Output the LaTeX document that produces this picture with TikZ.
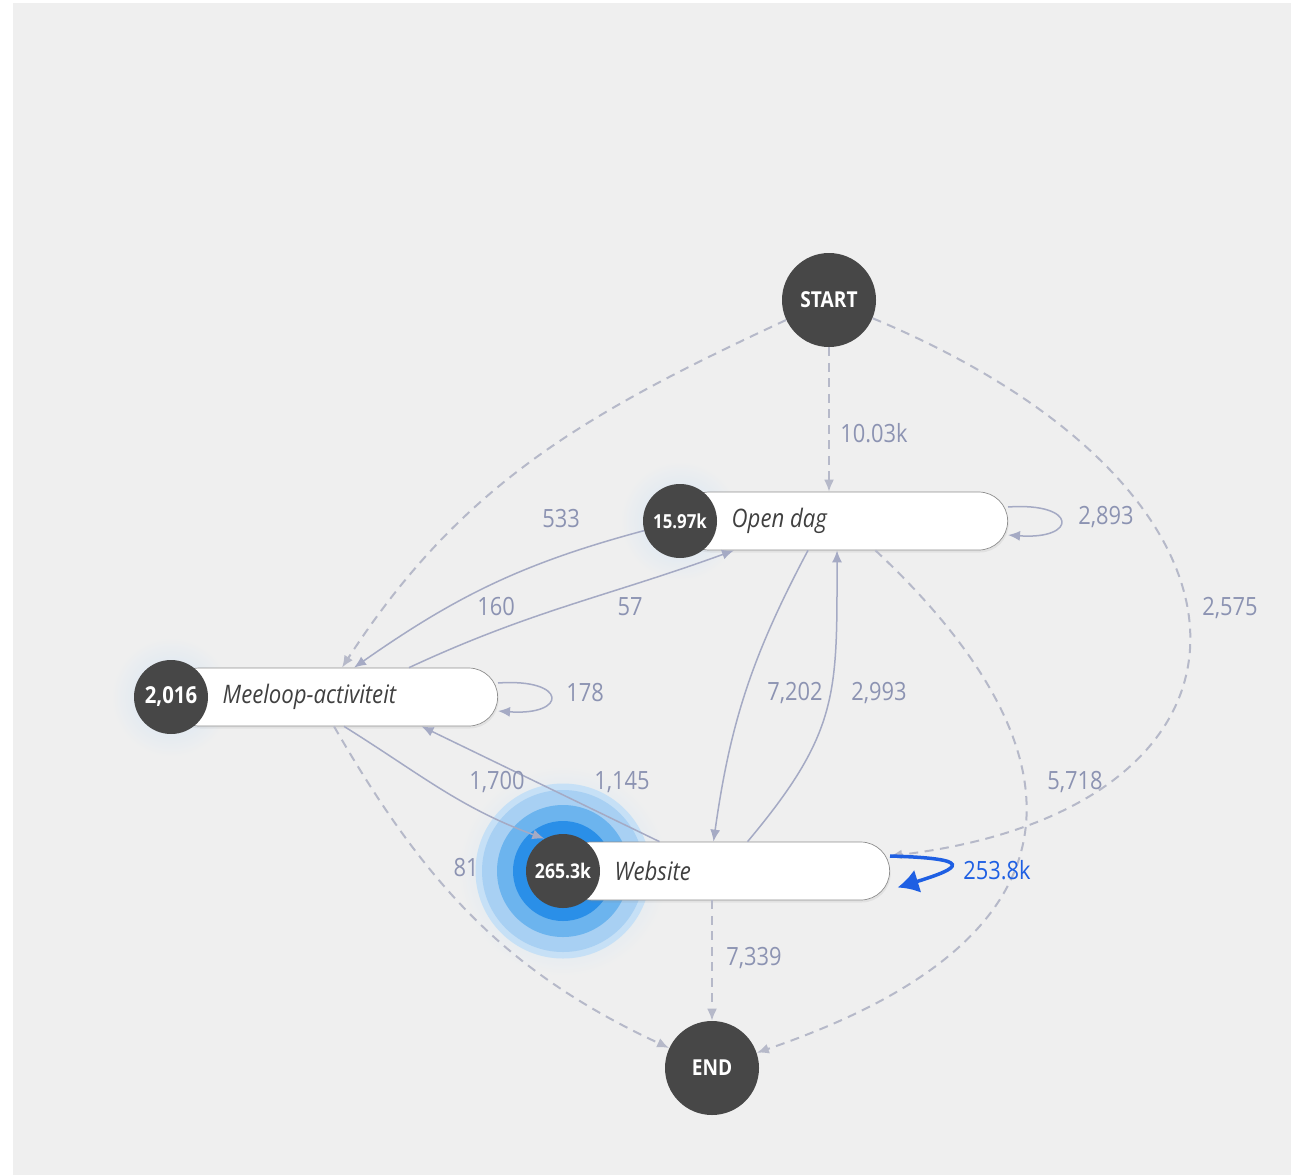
\documentclass[tikz,border=0pt]{standalone}
\usepackage{fontspec}
\setmainfont{Open Sans}[FakeStretch=0.87]
\usetikzlibrary{arrows.meta,positioning,shapes.misc,shadows}
\definecolor{bgpanel}{HTML}{EFEFEF}
\definecolor{stepdark}{HTML}{474747}
\definecolor{flowline}{HTML}{A5AAC4}
\definecolor{flowdash}{HTML}{B6B9C9}
\definecolor{flowlabel}{HTML}{8C93B2}
\definecolor{loopblue}{HTML}{1E5FE3}
\definecolor{pillborder}{HTML}{8E8E8E}
\definecolor{glowsoft}{HTML}{D3E4F4}
\definecolor{glowA}{HTML}{C6E0F6}
\definecolor{glowB}{HTML}{A8D0F3}
\definecolor{glowC}{HTML}{6CB4EE}
\definecolor{glowD}{HTML}{2A8FE8}

\begin{document}
\begin{tikzpicture}[x=0.2mm,y=-0.2mm,
  counter/.style={circle,fill=stepdark,text=white,font=\bfseries\fontsize{11}{12}\selectfont,minimum size=14.8mm,inner sep=0pt},
  endpoint/.style={circle,fill=stepdark,text=white,font=\bfseries\fontsize{12.5}{14}\selectfont,minimum size=18.8mm,inner sep=0pt},
  pill/.style={rounded rectangle,draw=pillborder,fill=white,minimum width=67.8mm,minimum height=11.6mm,anchor=east,drop shadow={shadow xshift=0.2mm,shadow yshift=-0.5mm,opacity=0.12}},
  pilltext/.style={font=\itshape\fontsize{14.5}{16}\selectfont,text=black!75,inner sep=0pt},
  flow/.style={draw=flowline,line width=0.3mm,-{Latex[length=2.4mm,width=2mm]}},
  dflow/.style={flow,draw=flowdash,line width=0.4mm,dash pattern=on 1.8mm off 1.3mm},
  num/.style={font=\fontsize{14.3}{16}\selectfont,text=flowlabel}]
\fill[white] (0,0) rectangle (1291,1175);
\fill[bgpanel] (13,3) rectangle (1291,1175);
\useasboundingbox (0,0) rectangle (1291,1175);

\shade[inner color=glowsoft,outer color=bgpanel] (680,521) circle[radius=12mm];
\shade[inner color=glowsoft,outer color=bgpanel] (171,697) circle[radius=12mm];
\shade[inner color=glowA,outer color=bgpanel] (563,871) circle[radius=21mm];
\fill[glowA] (563,871) circle[radius=17.5mm];
\fill[glowB] (563,871) circle[radius=16.2mm];
\fill[glowC] (563,871) circle[radius=13.2mm];
\fill[glowD] (563,871) circle[radius=10mm];

\node[endpoint] (start) at (829,300) {START};
\node[endpoint] (end) at (712,1068) {END};
\node[pill] (odp) at (1008,521) {};
\node[pill] (mlp) at (498,697) {};
\node[pill] (wsp) at (890,871) {};
\node[counter] (od) at (680,521) {15.97k};
\node[counter,font=\bfseries\fontsize{13.3}{14}\selectfont] (ml) at (171,697) {2,016};
\node[counter,font=\bfseries\fontsize{11.5}{12}\selectfont] (ws) at (563,871) {265.3k};
\node[pilltext,right=2.8mm of od] (odt) {Open dag};
\node[pilltext,right=2.8mm of ml] (mlt) {Meeloop-activiteit};
\node[pilltext,right=2.8mm of ws] (wst) {Website};

\draw[dflow] (start) -- (start |- odp.north);
\draw[dflow] (start) to[out=205,in=57] ([xshift=1.6mm]mlp.north);
\draw[flow] (od) to[out=195,in=35] ([xshift=4mm]mlp.north);
\draw[flow] ([xshift=15mm]mlp.north) to[out=25,in=200] ([xshift=-22mm]odp.south);
\draw[flow] ([yshift=2.8mm]odp.east) .. controls +(14mm,1mm) and +(14mm,-1mm) .. ([yshift=-2.8mm]odp.east);
\draw[flow] ([yshift=2.8mm]mlp.east) .. controls +(14mm,1mm) and +(14mm,-1mm) .. ([yshift=-2.8mm]mlp.east);
\draw[flow] ([xshift=-7.2mm]odp.south) to[bend right=10] ([xshift=-2.5mm]wsp.north);
\draw[flow] ([xshift=4.3mm]wsp.north) to[out=50,in=-90,looseness=1.2] ([xshift=-1.4mm]odp.south);
\draw[flow] ([xshift=-13.3mm]wsp.north) -- ([xshift=17.5mm]mlp.south);
\draw[flow] ([xshift=2mm]mlp.south) to[out=-32,in=160] (ws.120);
\draw[dflow] (end |- wsp.south) -- (end);
\draw[dflow] (mlp.south) to[out=-60,in=155] (end);
\draw[dflow] (odp) .. controls (1030,695) and (1160,915) .. (end);
\draw[dflow] (start) .. controls (1300,497) and (1283,809) .. ([yshift=3mm]wsp.east);
\draw[loopblue,line width=0.7mm,-{Latex[length=4.2mm,width=4.8mm]}] ([yshift=3mm]wsp.east) .. controls +(17mm,-0.5mm) and +(13mm,4mm) .. ([xshift=1.5mm,yshift=-3.3mm]wsp.east);

\node[num] (n1003) at (874,433) {10.03k};
\node[num] (n533) at (561,519) {533};
\node[num] (n2893) at (1106,517) {2,893};
\node[num] (n160) at (496,607) {160};
\node[num] (n57) at (630,607) {57};
\node[num] (n2575) at (1230,608) {2,575};
\node[num] (n178) at (585,693) {178};
\node[num] (n7202) at (795,693) {7,202};
\node[num] (n2993) at (879,693) {2,993};
\node[num] (n1700) at (497,782) {1,700};
\node[num] (n1145) at (622,782) {1,145};
\node[num] (n5718) at (1075,782) {5,718};
\node[num] (n81) at (466,868) {81};
\node[num,text=loopblue] (n2538) at (997,870) {253.8k};
\node[num] (n7339) at (754,958) {7,339};
\end{tikzpicture}
\end{document}
